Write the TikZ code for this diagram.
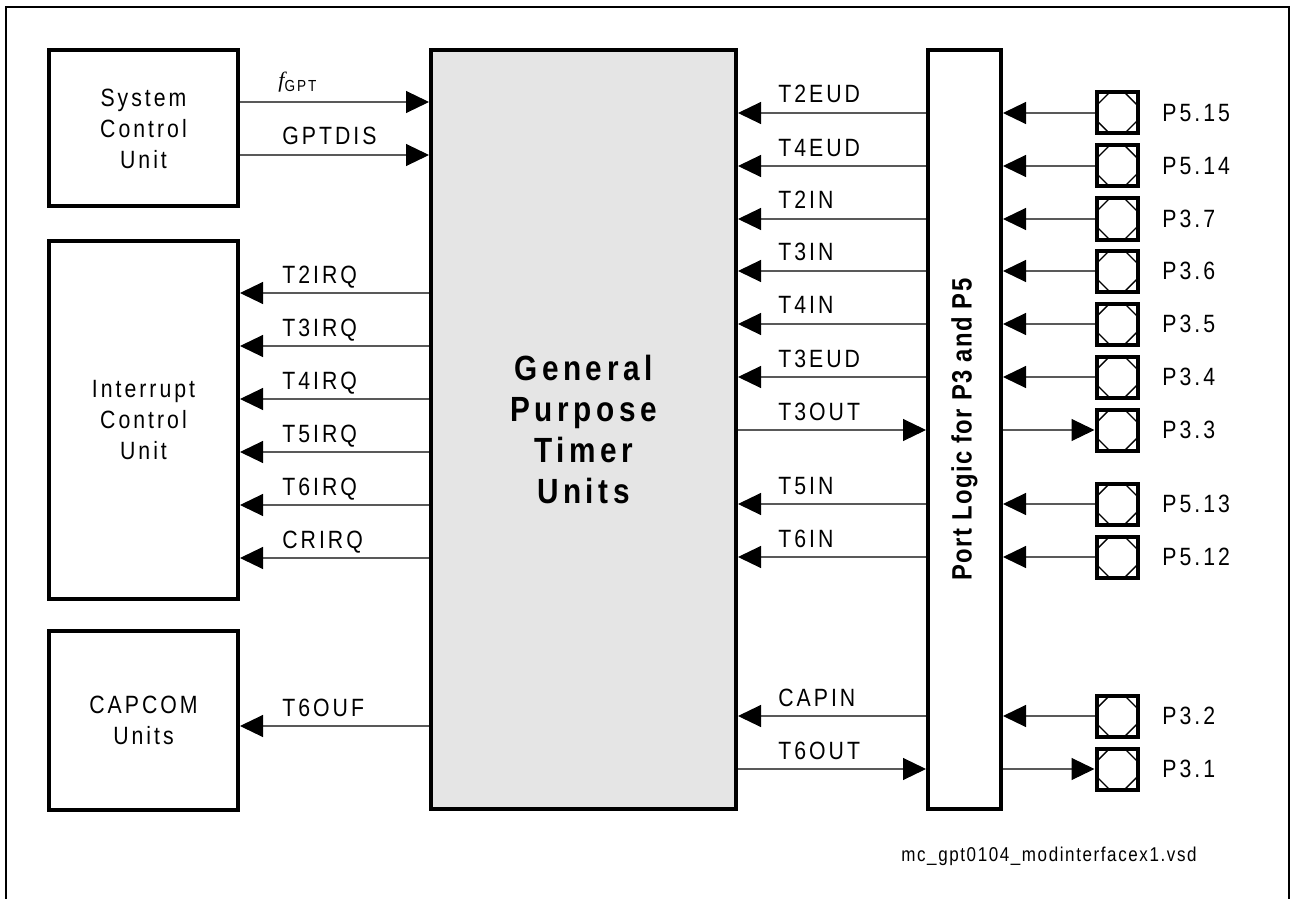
\documentclass[tikz,border=0pt]{standalone}
\usepackage{fontspec}
\setmainfont{Liberation Sans}
\newfontfamily\labfont{Liberation Sans}[LetterSpace=12,FakeStretch=0.85]
\newfontfamily\titfont{Liberation Sans}[LetterSpace=13,FakeStretch=0.85]
\newfontfamily\plfont{Liberation Sans}[LetterSpace=5,FakeStretch=0.85]
\newfontfamily\footfont{Liberation Sans}[LetterSpace=8,FakeStretch=0.85]
\newfontfamily\ffont{Liberation Serif}
\usetikzlibrary{arrows.meta}
\tikzset{
  blk/.style={draw, line width=2pt, inner sep=0pt, align=center,
    font=\labfont\fontsize{12.5}{15.5}\selectfont},
  pinbox/.style={draw, line width=2pt, minimum width=20.5pt, minimum height=20.5pt,
    inner sep=0pt, path picture={
      \draw[line width=0.7pt]
        ([xshift=6.5pt]path picture bounding box.north west) -- ([yshift=-6.5pt]path picture bounding box.north west)
        ([xshift=-6.5pt]path picture bounding box.north east) -- ([yshift=-6.5pt]path picture bounding box.north east)
        ([xshift=6.5pt]path picture bounding box.south west) -- ([yshift=6.5pt]path picture bounding box.south west)
        ([xshift=-6.5pt]path picture bounding box.south east) -- ([yshift=6.5pt]path picture bounding box.south east);
    }},
  sig/.style={line width=0.55pt, draw=black!65,
    -{Triangle[length=11.5pt,width=11pt,color=black]}},
  lab/.style={font=\labfont\fontsize{12.5}{14}\selectfont, inner sep=0pt},
}
\begin{document}
\begin{tikzpicture}[x=0.5pt,y=-0.5pt]
\useasboundingbox (0,0) rectangle (1297,899);
% frame
\draw[line width=1pt] (6,899) -- (6,7) -- (1289,7) -- (1289,899);

% blocks
\node[blk, minimum width=94.5pt, minimum height=78pt] (scu) at (143.5,128.5) {System\\Control\\Unit};
\node[blk, minimum width=94.5pt, minimum height=179pt] (icu) at (143.5,420) {Interrupt\\Control\\Unit};
\node[blk, minimum width=94.5pt, minimum height=89.5pt] (cap) at (143.5,720.5) {CAPCOM\\Units};
\node[blk, fill=black!10, minimum width=152.5pt, minimum height=379.5pt,
  font=\titfont\bfseries\fontsize{17.5}{20.5}\selectfont] (gpt) at (583.5,429.5) {General\\Purpose\\Timer\\Units};
\node[blk, minimum width=36.5pt, minimum height=379.5pt] (pl) at (964.5,429.5) {};
\node[rotate=90, inner sep=0pt,
  font=\plfont\bfseries\fontsize{14}{16}\selectfont] (pltext) at (pl.center) {Port Logic for P3 and P5};

% system control signals
\coordinate (ra) at (0,102);
\coordinate (rb) at (0,155);
\draw[sig] (scu.east |- ra) -- (gpt.west |- ra);
\draw[sig] (scu.east |- rb) -- (gpt.west |- rb);
\node[anchor=base west, inner sep=0pt] (lfgpt) at (278,88)
  {\ffont\itshape\fontsize{11}{13}\selectfont f\raisebox{-2pt}{\labfont\upshape\fontsize{8}{9}\selectfont GPT}};
\node[lab, anchor=base west] (lgptdis) at (282,145) {GPTDIS};

% interrupt signals
\foreach \yy/\ss/\nn in {293/T2IRQ/a, 346/T3IRQ/b, 399/T4IRQ/c, 452/T5IRQ/d, 505/T6IRQ/e, 558/CRIRQ/f}{
  \coordinate (ir\nn) at (0,\yy);
  \draw[sig] (gpt.west |- ir\nn) -- (icu.east |- ir\nn);
  \node[lab, anchor=base west] (lir\nn) at (282,\yy-10) {\ss};
}
% capcom signal
\coordinate (rc) at (0,726);
\draw[sig] (gpt.west |- rc) -- (cap.east |- rc);
\node[lab, anchor=base west] (lt6ouf) at (282,716) {T6OUF};

% port signals
\foreach \yy/\ss/\pn/\pt/\dd in {113/T2EUD/p515/P5.15/i, 166/T4EUD/p514/P5.14/i,
    219/T2IN/p37/P3.7/i, 271/T3IN/p36/P3.6/i, 324/T4IN/p35/P3.5/i, 377/T3EUD/p34/P3.4/i,
    430/T3OUT/p33/P3.3/o, 504/T5IN/p513/P5.13/i, 557/T6IN/p512/P5.12/i,
    716/CAPIN/p32/P3.2/i, 769/T6OUT/p31/P3.1/o}{
  \node[pinbox] (\pn) at (1117,\yy) {};
  \node[lab, anchor=west] (l\pn) at (1162,\yy) {\pt};
  \node[lab, anchor=base west] (s\pn) at (778,\yy-10) {\ss};
  \if\dd i
    \draw[sig] (\pn.west) -- (pl.east |- \pn);
    \draw[sig] (pl.west |- \pn) -- (gpt.east |- \pn);
  \else
    \draw[sig] (pl.east |- \pn) -- (\pn.west);
    \draw[sig] (gpt.east |- \pn) -- (pl.west |- \pn);
  \fi
}

\node[anchor=base east, inner sep=0pt, font=\footfont\fontsize{10}{12}\selectfont] (foot) at (1197,861) {mc\_gpt0104\_modinterfacex1.vsd};
\end{tikzpicture}
\end{document}
